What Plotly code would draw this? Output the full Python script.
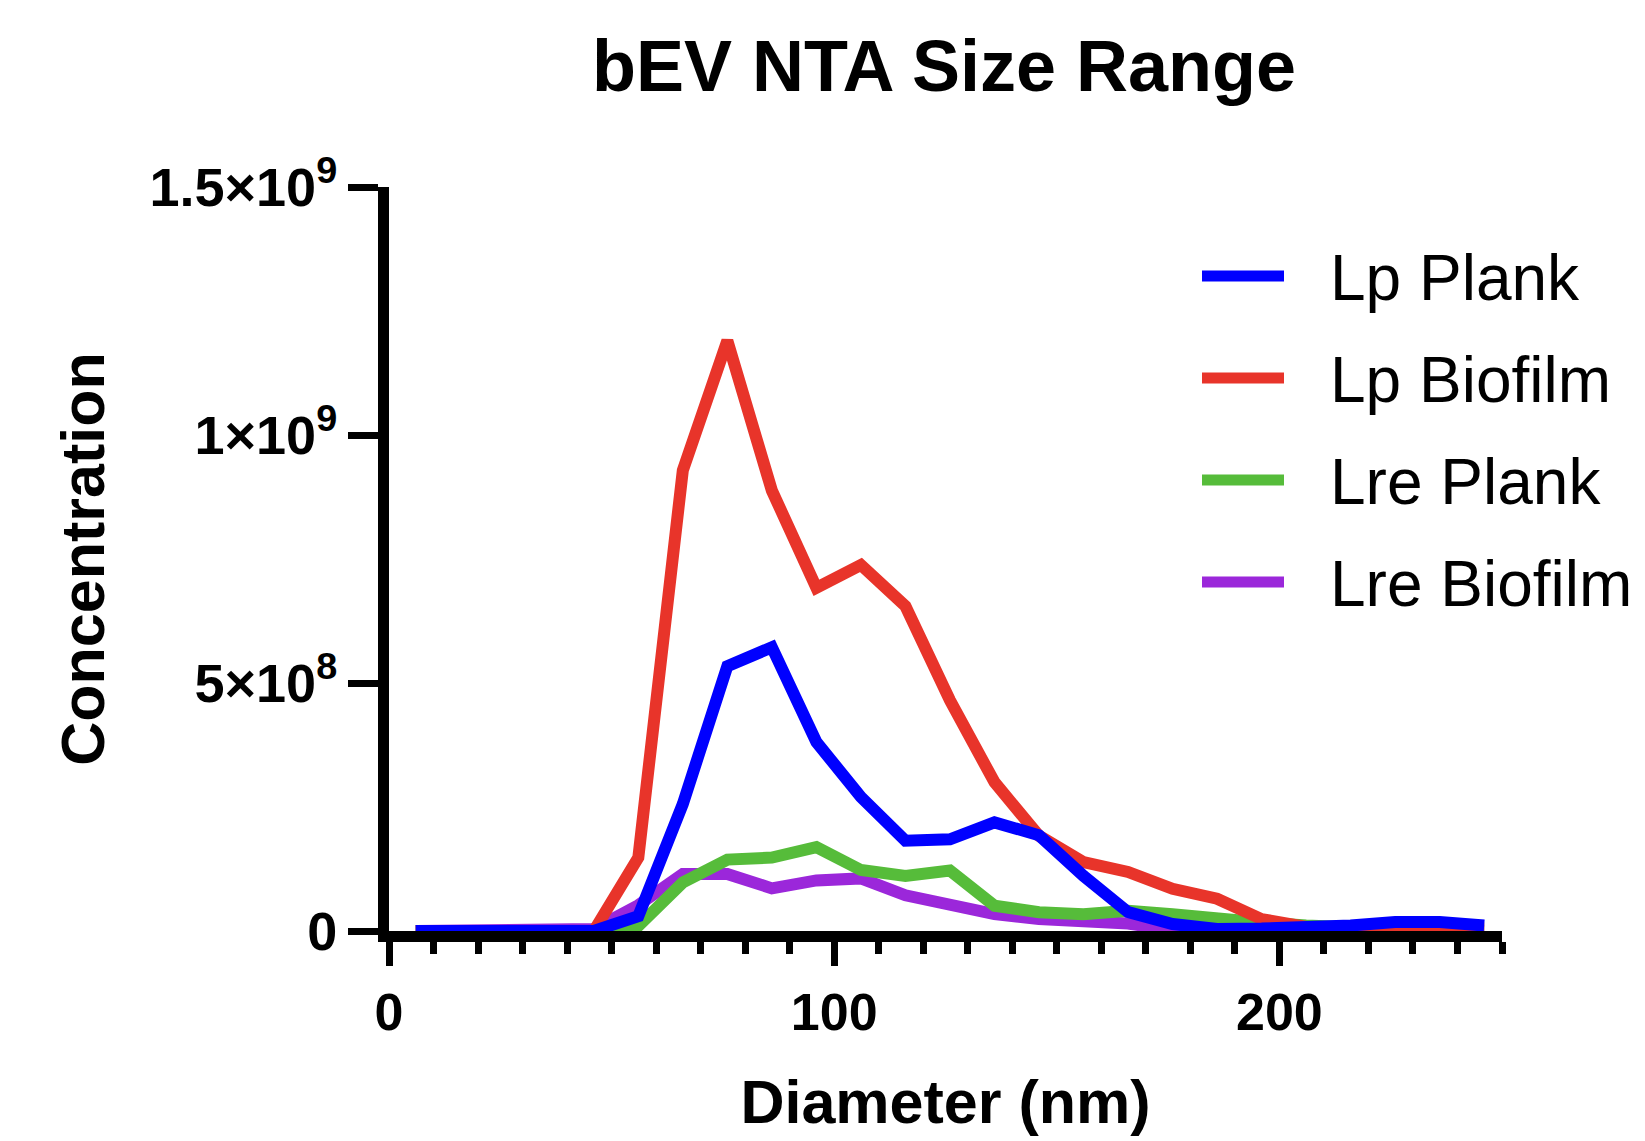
import plotly.graph_objects as go

# ---------------- data ----------------
diameter_nm = [6, 16, 26, 36, 46, 56, 66, 76, 86, 96, 106, 116, 126,
               136, 146, 156, 166, 176, 186, 196, 206, 216, 226, 236, 246]

# concentrations in units of 1e9 particles
lp_plank = [0, 0, 0, 0, 0, 0.030, 0.256, 0.534, 0.572, 0.381, 0.270, 0.182, 0.185,
            0.219, 0.193, 0.111, 0.038, 0.014, 0.004, 0.005, 0.006, 0.011, 0.018, 0.018, 0.011]
lp_biofilm = [0, 0, 0, 0, 0, 0.148, 0.929, 1.190, 0.888, 0.692, 0.738, 0.655, 0.465,
              0.300, 0.192, 0.139, 0.119, 0.085, 0.065, 0.024, 0.008, 0.002, 0.006, 0.006, 0.005]
lre_plank = [0, 0, 0, 0, 0, 0.010, 0.098, 0.144, 0.148, 0.169, 0.123, 0.111, 0.122,
             0.051, 0.038, 0.034, 0.041, 0.034, 0.024, 0.017, 0.011, 0.005, 0.004, 0.001, 0.002]
lre_biofilm = [0, 0, 0, 0, 0.004, 0.052, 0.115, 0.115, 0.086, 0.102, 0.106, 0.072, 0.051,
               0.034, 0.024, 0.021, 0.015, 0.002, 0.001, 0.001, 0, 0, 0, 0, 0]

series_names = ["Lp Plank", "Lp Biofilm", "Lre Plank", "Lre Biofilm"]
series_values = [lp_plank, lp_biofilm, lre_plank, lre_biofilm]
series_colors = ["#0000FF", "#E8342A", "#56BC3A", "#9B27DA"]

y_tickvals = [0, 5e8, 1e9, 1.5e9]
y_ticktext = ["0", "5×10<sup>8</sup>", "1×10<sup>9</sup>", "1.5×10<sup>9</sup>"]
x_tickvals = [0, 100, 200]

# ---------------- layout constants ----------------
W, H = 1645, 1141
L, R, T, B = 381, 151, 179, 218
PW, PH = W - L - R, H - T - B
FONT = "Liberation Sans, Arial, sans-serif"


def px_x(px):
    return (px - L) / PW


def px_y(py):
    return (H - B - py) / PH


fig = go.Figure()

# draw in reverse so that Lp Plank ends up on top
for name, vals, color in reversed(list(zip(series_names, series_values, series_colors))):
    fig.add_trace(go.Scatter(
        x=diameter_nm, y=[v * 1e9 for v in vals], mode="lines", name=name,
        line=dict(color=color, width=12), showlegend=False, cliponaxis=False,
    ))

# legend drawn as line samples + labels (long sample lines like the reference)
shapes, annotations = [], []
leg_y0, leg_dy = 268, 102
for i, (name, color) in enumerate(zip(series_names, series_colors)):
    yy = leg_y0 + i * leg_dy
    shapes.append(dict(type="line", xref="paper", yref="paper",
                       x0=px_x(1194), x1=px_x(1276), y0=px_y(yy), y1=px_y(yy),
                       line=dict(color=color, width=11)))
    annotations.append(dict(text=name, xref="paper", yref="paper",
                            x=px_x(1320), y=px_y(yy + 2), xanchor="left", yanchor="middle",
                            showarrow=False, font=dict(family=FONT, size=64, color="black")))

fig.update_layout(
    width=W, height=H,
    margin=dict(l=L, r=R, t=T, b=B, autoexpand=False),
    paper_bgcolor="white", plot_bgcolor="white",
    title=dict(text="bEV NTA Size Range", x=936 / W, xref="container", xanchor="center",
               y=1 - 58 / H, yref="container", yanchor="middle",
               font=dict(family=FONT, size=72, color="black", weight="bold")),
    shapes=shapes, annotations=annotations,
    showlegend=False,
)

fig.update_xaxes(
    range=[0, 250], showline=True, linewidth=11, linecolor="black",
    showgrid=False, zeroline=False, layer="below traces",
    tickmode="array", tickvals=x_tickvals, ticks="outside", ticklen=24, tickwidth=7,
    tickcolor="black", ticklabelstandoff=2,
    minor=dict(tick0=0, dtick=10, ticks="outside", ticklen=12, tickwidth=7, tickcolor="black"),
    tickfont=dict(family=FONT, size=52, color="black", weight="bold"),
    title=dict(text="Diameter (nm)", standoff=44,
               font=dict(family=FONT, size=61, color="black", weight="bold")),
)
fig.update_yaxes(
    range=[0, 1.5e9], showline=True, linewidth=11, linecolor="black",
    showgrid=False, zeroline=False, layer="below traces",
    tickmode="array", tickvals=y_tickvals, ticktext=y_ticktext,
    ticks="outside", ticklen=30, tickwidth=7, tickcolor="black", ticklabelstandoff=0,
    tickfont=dict(family=FONT, size=54, color="black", weight="bold"),
    title=dict(text="Concentration", standoff=30,
               font=dict(family=FONT, size=61, color="black", weight="bold")),
)

fig.write_html("out.html")
